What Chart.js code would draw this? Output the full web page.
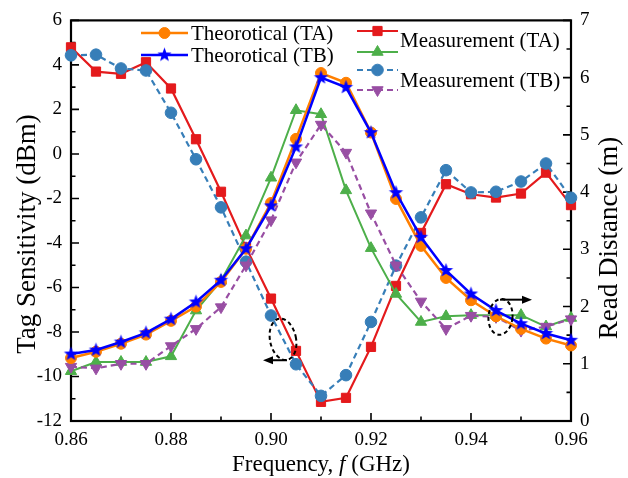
<!DOCTYPE html>
<html>
<head>
<meta charset="utf-8">
<script src="https://cdn.jsdelivr.net/npm/chart.js@4.4.1/dist/chart.umd.min.js"></script>
<style>
  html, body { margin: 0; padding: 0; background: #fff; }
  #wrap { width: 628px; height: 478px; }
</style>
</head>
<body>
<div id="wrap"><canvas id="readChart" width="628" height="478"></canvas></div>
<script>
// frequency points (GHz)
const freq = [0.86, 0.865, 0.87, 0.875, 0.88, 0.885, 0.89, 0.895, 0.90, 0.905, 0.91,
              0.915, 0.92, 0.925, 0.93, 0.935, 0.94, 0.945, 0.95, 0.955, 0.96];

// read distance (m), right axis
const theoTA = [1.10, 1.21, 1.35, 1.51, 1.75, 2.00, 2.43, 3.01, 3.81, 4.93, 6.08,
                5.91, 5.04, 3.88, 3.06, 2.50, 2.11, 1.83, 1.61, 1.44, 1.32];
const theoTB = [1.17, 1.24, 1.38, 1.54, 1.78, 2.08, 2.46, 3.01, 3.76, 4.79, 6.00,
                5.83, 5.04, 3.99, 3.21, 2.63, 2.22, 1.93, 1.70, 1.53, 1.41];
const measDistTA = [0.87, 1.03, 1.03, 1.03, 1.13, 1.93, 2.45, 3.24, 4.25, 5.43, 5.36,
                    4.03, 3.02, 2.22, 1.73, 1.83, 1.85, 1.85, 1.85, 1.65, 1.80];
const measDistTB = [0.95, 0.92, 1.00, 1.00, 1.31, 1.61, 1.99, 2.72, 3.51, 4.52, 5.18,
                    4.69, 3.63, 2.72, 2.09, 1.61, 1.84, 1.82, 1.58, 1.65, 1.78];

// tag sensitivity (dBm), left axis
const measSensTA = [4.79, 3.70, 3.60, 4.12, 2.94, 0.66, -1.70, -4.20, -6.50, -8.85, -11.14,
                    -10.96, -8.67, -5.93, -3.55, -1.36, -1.81, -1.96, -1.78, -0.84, -2.30];
const measSensTB = [4.43, 4.46, 3.84, 3.75, 1.85, -0.24, -2.40, -4.84, -7.26, -9.45, -10.87,
                    -9.94, -7.55, -5.02, -2.85, -0.73, -1.73, -1.70, -1.24, -0.43, -1.97];

// tick values
const xTicks = [0.86, 0.88, 0.90, 0.92, 0.94, 0.96];
const xMinor = [0.87, 0.89, 0.91, 0.93, 0.95];
const leftTicks = [-12, -10, -8, -6, -4, -2, 0, 2, 4, 6];
const leftMinor = [-11, -9, -7, -5, -3, -1, 1, 3, 5];
const rightTicks = [0, 1, 2, 3, 4, 5, 6, 7];
const rightMinor = [0.5, 1.5, 2.5, 3.5, 4.5, 5.5, 6.5];

const SERIF = '"Liberation Serif", "Times New Roman", serif';
const C_ORANGE = '#ff7f00', C_BLUE = '#0000ff', C_RED = '#e41a1c',
      C_GREEN = '#4daf4a', C_STEEL = '#377eb8', C_PURPLE = '#984ea3';

// filled five-point star used as marker for Theorotical (TB)
function makeStar(r, color) {
  const c = document.createElement('canvas');
  c.width = c.height = Math.ceil(r * 2 + 2);
  const g = c.getContext('2d');
  const cx = c.width / 2, cy = c.height / 2;
  g.beginPath();
  for (let i = 0; i < 10; i++) {
    const rad = i % 2 === 0 ? r : r * 0.42;
    const a = -Math.PI / 2 + i * Math.PI / 5;
    const px = cx + rad * Math.cos(a), py = cy + rad * Math.sin(a);
    if (i === 0) g.moveTo(px, py); else g.lineTo(px, py);
  }
  g.closePath();
  g.fillStyle = color;
  g.fill();
  return c;
}
const starImg = makeStar(7.5, C_BLUE);

function pts(ys) {
  return freq.map((f, i) => ({ x: f, y: ys[i] }));
}

function drawMark(ctx, opts, x, y, color) {
  ctx.save();
  ctx.fillStyle = color;
  ctx.strokeStyle = color;
  ctx.lineWidth = 1;
  Chart.helpers.drawPoint(ctx, opts, x, y);
  ctx.restore();
}

// frame + inward ticks (Origin style), annotations, legend, axis titles
const frameTicks = {
  id: 'frameTicks',
  beforeDatasetsDraw(chart) {
    const { ctx, chartArea: a, scales } = chart;
    ctx.save();
    ctx.strokeStyle = '#000';
    ctx.lineWidth = 1.6;
    ctx.beginPath();
    xTicks.forEach(v => { const p = scales.x.getPixelForValue(v); ctx.moveTo(p, a.bottom); ctx.lineTo(p, a.bottom - 8); });
    xMinor.forEach(v => { const p = scales.x.getPixelForValue(v); ctx.moveTo(p, a.bottom); ctx.lineTo(p, a.bottom - 4.5); });
    leftTicks.forEach(v => { const p = scales.y.getPixelForValue(v); ctx.moveTo(a.left, p); ctx.lineTo(a.left + 8, p); });
    leftMinor.forEach(v => { const p = scales.y.getPixelForValue(v); ctx.moveTo(a.left, p); ctx.lineTo(a.left + 4.5, p); });
    rightTicks.forEach(v => { const p = scales.y1.getPixelForValue(v); ctx.moveTo(a.right, p); ctx.lineTo(a.right - 8, p); });
    rightMinor.forEach(v => { const p = scales.y1.getPixelForValue(v); ctx.moveTo(a.right, p); ctx.lineTo(a.right - 4.5, p); });
    ctx.stroke();
    ctx.lineWidth = 2.2;
    ctx.strokeRect(a.left, a.top, a.right - a.left, a.bottom - a.top);
    ctx.restore();
  },
  afterDatasetsDraw(chart) {
    const { ctx, scales } = chart;
    ctx.save();
    ctx.strokeStyle = '#000';
    ctx.fillStyle = '#000';
    ctx.lineWidth = 2;

    // dotted ellipse -> left axis
    ctx.setLineDash([4, 3]);
    ctx.beginPath();
    ctx.ellipse(scales.x.getPixelForValue(0.9024), scales.y.getPixelForValue(-8.33), 13, 21, -0.2, 0, Math.PI * 2);
    ctx.stroke();
    // dotted ellipse -> right axis
    ctx.beginPath();
    ctx.ellipse(scales.x.getPixelForValue(0.9459), scales.y1.getPixelForValue(1.82), 12, 18, 0.1, 0, Math.PI * 2);
    ctx.stroke();
    ctx.setLineDash([]);

    const arrow = (x0, x1, y) => {
      const dir = Math.sign(x1 - x0);
      ctx.beginPath();
      ctx.moveTo(x0, y);
      ctx.lineTo(x1 - dir * 7, y);
      ctx.stroke();
      ctx.beginPath();
      ctx.moveTo(x1, y);
      ctx.lineTo(x1 - dir * 10, y - 4);
      ctx.lineTo(x1 - dir * 10, y + 4);
      ctx.closePath();
      ctx.fill();
    };
    const yl = scales.y.getPixelForValue(-9.27);
    arrow(scales.x.getPixelForValue(0.9032), scales.x.getPixelForValue(0.8984), yl);
    const yr = scales.y1.getPixelForValue(2.12);
    arrow(scales.x.getPixelForValue(0.9458), scales.x.getPixelForValue(0.9522), yr);
    ctx.restore();
  },
  afterDraw(chart) {
    const { ctx, chartArea: a } = chart;
    ctx.save();
    // legend
    const seg = (x0, x1, y, color, dash, w) => {
      ctx.save();
      ctx.strokeStyle = color;
      ctx.lineWidth = w;
      ctx.setLineDash(dash);
      ctx.beginPath();
      ctx.moveTo(x0, y);
      ctx.lineTo(x1, y);
      ctx.stroke();
      ctx.restore();
    };
    const ds = chart.data.datasets;
    const entry = (d, x0, x1, y) => {
      seg(x0, x1, y, d.borderColor, d.borderDash || [], d.borderWidth);
      drawMark(ctx, { pointStyle: d.pointStyle, radius: d.pointRadius, rotation: d.pointRotation || 0, borderWidth: 1 },
               (x0 + x1) / 2, y, d.pointBackgroundColor);
    };
    entry(ds[0], 141, 188, 33);
    entry(ds[1], 141, 188, 55);
    entry(ds[2], 357, 398, 31);
    entry(ds[3], 357, 398, 52);
    entry(ds[4], 357, 398, 70);
    entry(ds[5], 357, 398, 90);

    ctx.fillStyle = '#000';
    ctx.font = '21px ' + SERIF;
    ctx.textAlign = 'left';
    ctx.textBaseline = 'middle';
    ctx.fillText('Theorotical (TA)', 191, 34);
    ctx.fillText('Theorotical (TB)', 191, 56);
    ctx.fillText('Measurement (TA)', 400, 41);
    ctx.fillText('Measurement (TB)', 400, 81);

    // x axis title with italic f
    const parts = [['Frequency, ', ''], ['f', 'italic '], [' (GHz)', '']];
    let total = 0;
    parts.forEach(p => { ctx.font = p[1] + '23px ' + SERIF; total += ctx.measureText(p[0]).width; });
    let x = (a.left + a.right) / 2 - total / 2;
    parts.forEach(p => {
      ctx.font = p[1] + '23px ' + SERIF;
      ctx.fillText(p[0], x, 465);
      x += ctx.measureText(p[0]).width;
    });

    // y axis titles, both reading bottom to top
    ctx.font = '27px ' + SERIF;
    ctx.textAlign = 'center';
    const vTitle = (text, cx, cy) => {
      ctx.save();
      ctx.translate(cx, cy);
      ctx.rotate(-Math.PI / 2);
      ctx.fillText(text, 0, 0);
      ctx.restore();
    };
    vTitle('Tag Sensitivity (dBm)', 28, 234);
    vTitle('Read Distance (m)', 610, 238);
    ctx.restore();
  }
};

const ctx = document.getElementById('readChart').getContext('2d');
new Chart(ctx, {
  type: 'line',
  data: {
    datasets: [
      { label: 'Theorotical (TA)', yAxisID: 'y1', data: pts(theoTA), order: 1,
        borderColor: C_ORANGE, borderWidth: 2.5, pointStyle: 'circle', pointRadius: 5.5,
        pointBackgroundColor: C_ORANGE, pointBorderColor: C_ORANGE, pointBorderWidth: 1 },
      { label: 'Theorotical (TB)', yAxisID: 'y1', data: pts(theoTB), order: 0,
        borderColor: C_BLUE, borderWidth: 2.5, pointStyle: starImg, pointRadius: 7.5,
        pointBackgroundColor: C_BLUE, pointBorderColor: C_BLUE, pointBorderWidth: 0 },
      { label: 'Measurement (TA)', yAxisID: 'y', data: pts(measSensTA), order: 5,
        borderColor: C_RED, borderWidth: 2.2, pointStyle: 'rect', pointRadius: 6.5,
        pointBackgroundColor: C_RED, pointBorderColor: C_RED, pointBorderWidth: 1 },
      { label: 'Measurement (TA) distance', yAxisID: 'y1', data: pts(measDistTA), order: 3,
        borderColor: C_GREEN, borderWidth: 2, pointStyle: 'triangle', pointRadius: 6.5,
        pointBackgroundColor: C_GREEN, pointBorderColor: C_GREEN, pointBorderWidth: 1 },
      { label: 'Measurement (TB)', yAxisID: 'y', data: pts(measSensTB), order: 4,
        borderColor: C_STEEL, borderWidth: 2.2, borderDash: [6, 4], pointStyle: 'circle', pointRadius: 5.8,
        pointBackgroundColor: C_STEEL, pointBorderColor: C_STEEL, pointBorderWidth: 1 },
      { label: 'Measurement (TB) distance', yAxisID: 'y1', data: pts(measDistTB), order: 2,
        borderColor: C_PURPLE, borderWidth: 2.2, borderDash: [6, 4], pointStyle: 'triangle', pointRotation: 180,
        pointRadius: 6.5, pointBackgroundColor: C_PURPLE, pointBorderColor: C_PURPLE, pointBorderWidth: 1 }
    ]
  },
  options: {
    responsive: false,
    animation: false,
    devicePixelRatio: 1,
    layout: { padding: { top: 19, left: 0, right: 0, bottom: 0 } },
    elements: { line: { tension: 0, fill: false } },
    datasets: { line: { clip: false } },
    plugins: { legend: { display: false }, tooltip: { enabled: false } },
    scales: {
      x: {
        type: 'linear', min: 0.86, max: 0.96,
        afterBuildTicks: s => { s.ticks = xTicks.map(v => ({ value: v })); },
        afterFit: s => { s.height = 57; },
        grid: { display: false, drawTicks: false },
        border: { display: false },
        ticks: { color: '#000', padding: 8, font: { family: SERIF, size: 19 },
                 callback: v => v.toFixed(2) }
      },
      y: {
        position: 'left', min: -12, max: 6,
        afterBuildTicks: s => { s.ticks = leftTicks.map(v => ({ value: v })); },
        afterFit: s => { s.width = 71; },
        grid: { display: false, drawTicks: false },
        border: { display: false },
        ticks: { color: '#000', padding: 9, font: { family: SERIF, size: 19 } }
      },
      y1: {
        position: 'right', min: 0, max: 7,
        afterBuildTicks: s => { s.ticks = rightTicks.map(v => ({ value: v })); },
        afterFit: s => { s.width = 57; },
        grid: { display: false, drawTicks: false },
        border: { display: false },
        ticks: { color: '#000', padding: 9, font: { family: SERIF, size: 19 } }
      }
    }
  },
  plugins: [frameTicks]
});
</script>
</body>
</html>
